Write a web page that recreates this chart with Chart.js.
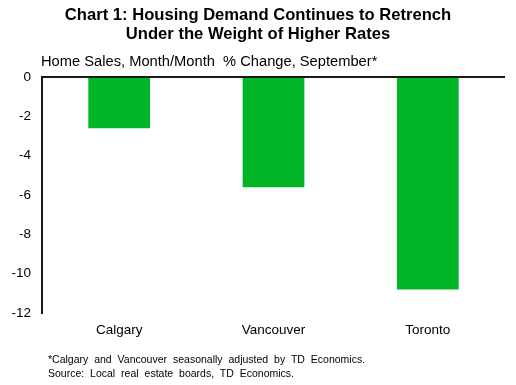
<!DOCTYPE html>
<html>
<head>
<meta charset="utf-8">
<script src="https://cdn.jsdelivr.net/npm/chart.js@4"></script>
<style>
    body { margin: 0; background: #fff; font-family: "Liberation Sans", Arial, sans-serif; }
    #wrap { position: relative; width: 516px; height: 385px; overflow: hidden; }
    #chart { position: absolute; left: 0; top: 0; }
    .title { position: absolute; left: 0; width: 516px; top: 5px; text-align: center; font-weight: bold; font-size: 16.6px; line-height: 19px; color: #000; }
    .subtitle { position: absolute; left: 41px; top: 53px; font-size: 14.7px; color: #000; }
    .notes { position: absolute; left: 48px; top: 352px; font-size: 10.5px; line-height: 14px; color: #000; word-spacing: 3px; }
</style>
</head>
<body>
<div id="wrap">
    <canvas id="chart" width="516" height="385"></canvas>
    <div class="title">Chart 1: Housing Demand Continues to Retrench<br>Under the Weight of Higher Rates</div>
    <div class="subtitle">Home Sales, Month/Month &nbsp;% Change, September*</div>
    <div class="notes">*Calgary and Vancouver seasonally adjusted by TD Economics.<br>Source: Local real estate boards, TD Economics.</div>
</div>
<script>
    // Data
    const cities = ['Calgary', 'Vancouver', 'Toronto'];
    const salesChange = [-2.6, -5.6, -10.8];
    const yTicks = [0, -2, -4, -6, -8, -10, -12];

    const axisColor = '#1a1a10';

    new Chart(document.getElementById('chart'), {
        type: 'bar',
        data: {
            labels: cities,
            datasets: [{
                data: salesChange,
                backgroundColor: '#02b527',
                borderWidth: 0,
                categoryPercentage: 1,
                barPercentage: 0.4
            }]
        },
        options: {
            responsive: false,
            animation: false,
            layout: { padding: { top: 77, right: 11, left: 0, bottom: 0 } },
            plugins: { legend: { display: false }, tooltip: { enabled: false } },
            scales: {
                x: {
                    grid: { display: false },
                    border: { display: false },
                    ticks: { color: '#000', font: { family: 'Liberation Sans', size: 13.5 }, padding: 1 },
                    afterFit: function (scale) { scale.height = 72; }
                },
                y: {
                    min: -12,
                    max: 0,
                    afterBuildTicks: function (scale) {
                        scale.ticks = yTicks.map(function (v) { return { value: v }; });
                    },
                    grid: {
                        drawTicks: false,
                        lineWidth: 2,
                        color: function (ctx) { return ctx.tick && ctx.tick.value === 0 ? axisColor : 'rgba(0,0,0,0)'; }
                    },
                    border: { display: true, color: axisColor, width: 2 },
                    ticks: { color: '#000', font: { family: 'Liberation Sans', size: 13.5 }, padding: 11 },
                    afterFit: function (scale) { scale.width = 42; }
                }
            }
        }
    });
</script>
</body>
</html>
